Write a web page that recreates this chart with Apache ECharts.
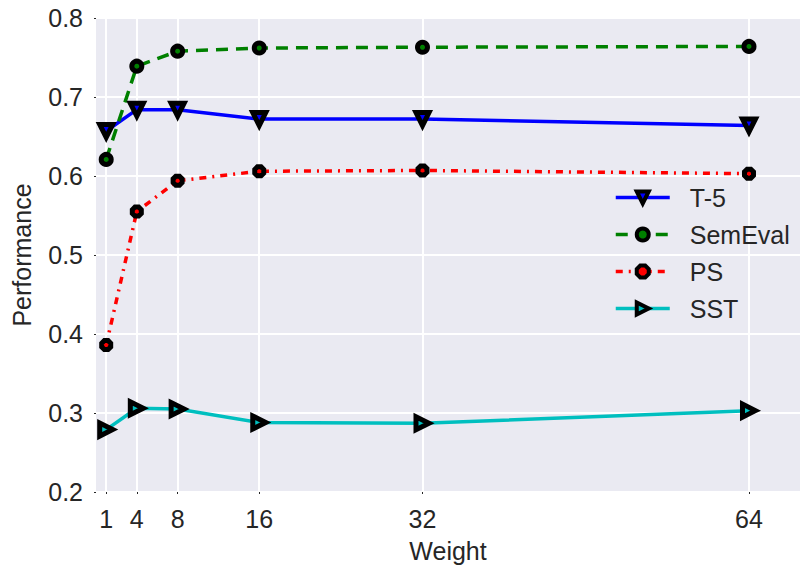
<!DOCTYPE html>
<html>
<head>
<meta charset="utf-8">
<script src="https://cdn.jsdelivr.net/npm/echarts@6/dist/echarts.min.js"></script>
<style>
  html, body { margin: 0; padding: 0; background: #fff; }
  #chart { width: 800px; height: 571px; }
</style>
</head>
<body>
<div id="chart"></div>
<script>
var weights = [1, 4, 8, 16, 32, 64]
var t5 = [0.657, 0.684, 0.684, 0.672, 0.672, 0.664]
var semeval = [0.621, 0.739, 0.758, 0.762, 0.763, 0.764]
var ps = [0.386, 0.555, 0.594, 0.606, 0.607, 0.603]
var sst = [0.279, 0.306, 0.305, 0.288, 0.287, 0.303]
var yTicks = [0.2, 0.3, 0.4, 0.5, 0.6, 0.7, 0.8]

var font = '"Liberation Sans", Arial, sans-serif'
var ink = '#262626'
var octagon = 'path://M-0.41,-1 L0.41,-1 L1,-0.41 L1,0.41 L0.41,1 L-0.41,1 L-1,0.41 L-1,-0.41 Z'

function pairs(ys) {
    return weights.map(function(w, i) { return [w, ys[i]] })
}

function line(name, ys, color, type, symbol, size, rotate) {
    return {
        name: name,
        type: 'line',
        data: pairs(ys),
        color: color,
        symbol: symbol,
        symbolSize: size,
        symbolRotate: rotate,
        showAllSymbol: true,
        lineStyle: { color: color, width: 3.5, type: type },
        itemStyle: { color: color, borderColor: '#000', borderWidth: 5 },
        emphasis: { disabled: true },
        z: 3
    }
}

var chart = echarts.init(document.getElementById('chart'), null, { renderer: 'svg' })

chart.setOption({
    animation: false,
    textStyle: { fontFamily: font },
    grid: {
        left: 96, top: 18, right: 0, bottom: 79,
        show: true, backgroundColor: '#EAEAF2', borderWidth: 0
    },
    legend: {
        orient: 'vertical',
        left: 609,
        top: 180,
        itemWidth: 54,
        itemHeight: 15,
        itemGap: 12,
        itemStyle: { borderColor: '#000', borderWidth: 4 },
        lineStyle: { width: 3.5 },
        textStyle: { fontSize: 25, color: ink, fontFamily: font, padding: [0, 0, 0, 15] },
        data: ['T-5', 'SemEval', 'PS', 'SST']
    },
    xAxis: {
        type: 'value',
        min: 0,
        max: 69,
        name: 'Weight',
        nameLocation: 'middle',
        nameGap: 46,
        nameTextStyle: { fontSize: 25, color: ink, fontFamily: font },
        axisLine: { show: false },
        axisTick: { show: true, length: 2, customValues: weights, lineStyle: { color: ink } },
        axisLabel: { customValues: weights, fontSize: 25, color: ink, margin: 14, fontFamily: font },
        splitLine: { show: true, lineStyle: { color: '#fff', width: 2 } }
    },
    yAxis: {
        type: 'value',
        min: 0.2,
        max: 0.8,
        interval: 0.1,
        name: 'Performance',
        nameLocation: 'middle',
        nameGap: 62,
        nameTextStyle: { fontSize: 25, color: ink, fontFamily: font },
        axisLine: { show: false },
        axisTick: { show: true, length: 2, lineStyle: { color: ink } },
        axisLabel: {
            fontSize: 25, color: ink, margin: 13, fontFamily: font,
            formatter: function(v) { return yTicks.indexOf(+v.toFixed(1)) >= 0 ? v.toFixed(1) : '' }
        },
        splitLine: { show: true, lineStyle: { color: '#fff', width: 2 } }
    },
    series: [
        line('T-5', t5, '#0000FF', 'solid', 'triangle', 13, 180),
        line('SemEval', semeval, '#008000', [12, 8], 'circle', 10, 0),
        line('PS', ps, '#FF0000', [7, 6, 2, 6], octagon, 9, 0),
        line('SST', sst, '#00BFBF', 'solid', 'triangle', 13, -90)
    ]
})
</script>
</body>
</html>
